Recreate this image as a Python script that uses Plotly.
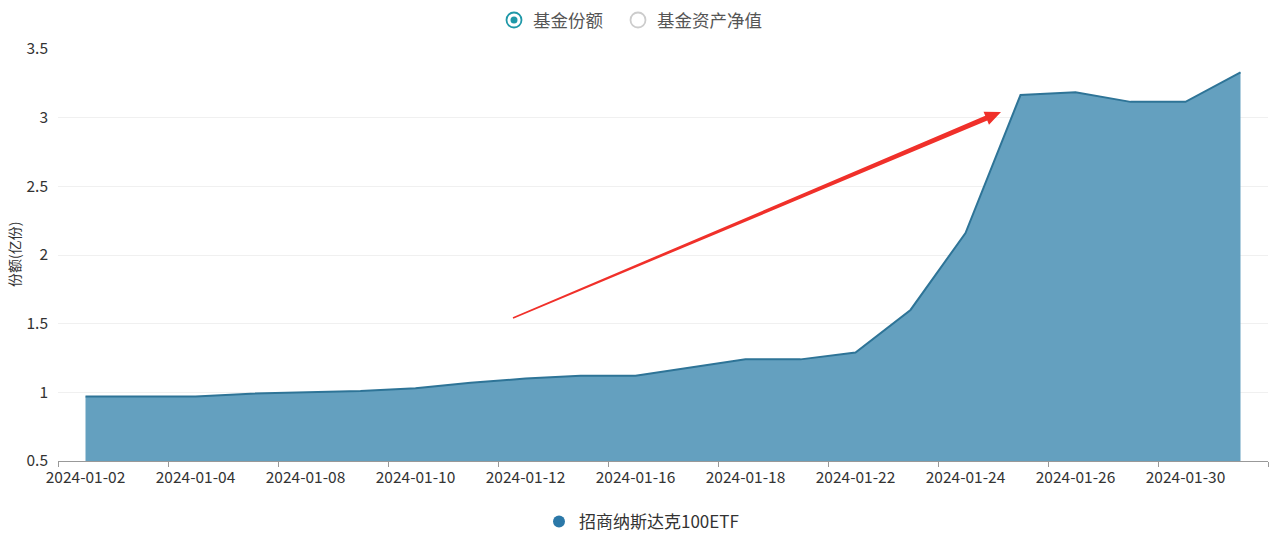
import math
import plotly.graph_objects as go

# trading days in Jan 2024 and fund shares (亿份)
dates = ['2024-01-02', '2024-01-03', '2024-01-04', '2024-01-05', '2024-01-08',
         '2024-01-09', '2024-01-10', '2024-01-11', '2024-01-12', '2024-01-15',
         '2024-01-16', '2024-01-17', '2024-01-18', '2024-01-19', '2024-01-22',
         '2024-01-23', '2024-01-24', '2024-01-25', '2024-01-26', '2024-01-29',
         '2024-01-30', '2024-01-31']
shares = [0.97, 0.97, 0.97, 0.99, 1.00, 1.01, 1.03, 1.07, 1.10, 1.12,
          1.12, 1.18, 1.24, 1.24, 1.29, 1.60, 2.16, 3.165, 3.185, 3.115,
          3.115, 3.33]
fund_name = '招商纳斯达克100ETF'
toggle_labels = ['基金份额', '基金资产净值']

W, H = 1280, 548
L, R, T, B = 58, 12, 49, 87
font = 'Noto Sans CJK SC, Microsoft YaHei, sans-serif'


def px2paper(x, y):
    return (x - L) / (W - L - R), (H - B - y) / (H - T - B)


fig = go.Figure()
fig.add_trace(go.Scatter(
    x=dates, y=shares, mode='lines', fill='tozeroy',
    line=dict(color='#2e7497', width=2),
    fillcolor='rgba(100,160,191,1)',
    showlegend=False, hoverinfo='x+y'))
fig.add_trace(go.Scatter(
    x=[None], y=[None], mode='markers', name=fund_name,
    marker=dict(color='#2b78a8', size=12)))

# tapered red arrow
sx, sy = 513, 318
tx, ty = 1001, 112
dx, dy = tx - sx, ty - sy
ln = math.hypot(dx, dy)
ux, uy = dx / ln, dy / ln
nx, ny = -uy, ux
head_len, head_w = 16, 7
w0, w1 = 0.8, 2.6
bx, by = tx - ux * head_len, ty - uy * head_len
pts = [(sx + nx * w0, sy + ny * w0),
       (bx + nx * w1, by + ny * w1),
       (bx + nx * head_w, by + ny * head_w),
       (tx, ty),
       (bx - nx * head_w, by - ny * head_w),
       (bx - nx * w1, by - ny * w1),
       (sx - nx * w0, sy - ny * w0)]
pp = [px2paper(*p) for p in pts]
path = 'M ' + ' L '.join(f'{a:.5f},{b:.5f}' for a, b in pp) + ' Z'
fig.add_shape(type='path', xref='paper', yref='paper', path=path,
              fillcolor='#f0302a', line=dict(width=0))

# radio-style toggles at the top
toggle_x = [514, 638]
for i, (lab, cx) in enumerate(zip(toggle_labels, toggle_x)):
    cy = 20
    r = 7.5
    x0, y0 = px2paper(cx - r, cy + r)
    x1, y1 = px2paper(cx + r, cy - r)
    col = '#1f98a8' if i == 0 else '#cccccc'
    fig.add_shape(type='circle', xref='paper', yref='paper',
                  x0=x0, y0=y0, x1=x1, y1=y1,
                  line=dict(color=col, width=1.8), fillcolor='white')
    if i == 0:
        r2 = 3.5
        x0, y0 = px2paper(cx - r2, cy + r2)
        x1, y1 = px2paper(cx + r2, cy - r2)
        fig.add_shape(type='circle', xref='paper', yref='paper',
                      x0=x0, y0=y0, x1=x1, y1=y1,
                      line=dict(width=0), fillcolor=col)
    ax, ay = px2paper(cx + 17, cy)
    fig.add_annotation(x=ax, y=ay, xref='paper', yref='paper', text=lab,
                       showarrow=False, xanchor='left', yanchor='middle',
                       font=dict(size=17.5, color='#555555', family=font))

# y axis title placed by hand
tx_, ty_ = px2paper(14, 255)
fig.add_annotation(x=tx_, y=ty_, xref='paper', yref='paper', text='份额(亿份)',
                   showarrow=False, textangle=-90, xanchor='center',
                   yanchor='middle', font=dict(size=14, color='#333333'))

lx, ly = px2paper(539, 522)
fig.update_layout(
    width=W, height=H,
    margin=dict(l=L, r=R, t=T, b=B, autoexpand=False),
    paper_bgcolor='white', plot_bgcolor='white',
    font=dict(family=font, size=14, color='#333333'),
    legend=dict(orientation='h', x=lx, xanchor='left', y=ly,
                yanchor='middle', font=dict(size=17, color='#333333'),
                itemwidth=30),
    xaxis=dict(type='category', range=[-0.5, len(dates) - 0.5],
               dtick=2, tickson='boundaries', ticks='outside', ticklen=5,
               tickcolor='#999999', showline=True, linecolor='#999999',
               showgrid=False, tickangle=0, automargin=False,
               ticklabelstandoff=2,
               tickfont=dict(size=15.5, color='#333333')),
    yaxis=dict(range=[0.5, 3.5], dtick=0.5, showgrid=True,
               gridcolor='#f0f0f0', zeroline=False, showline=False,
               ticks='', automargin=False, ticklabelstandoff=9,
               tickfont=dict(size=15.5, color='#333333')),
)

fig.write_html('out.html', config={'displayModeBar': False},
               post_script="document.body.style.margin='0';")
